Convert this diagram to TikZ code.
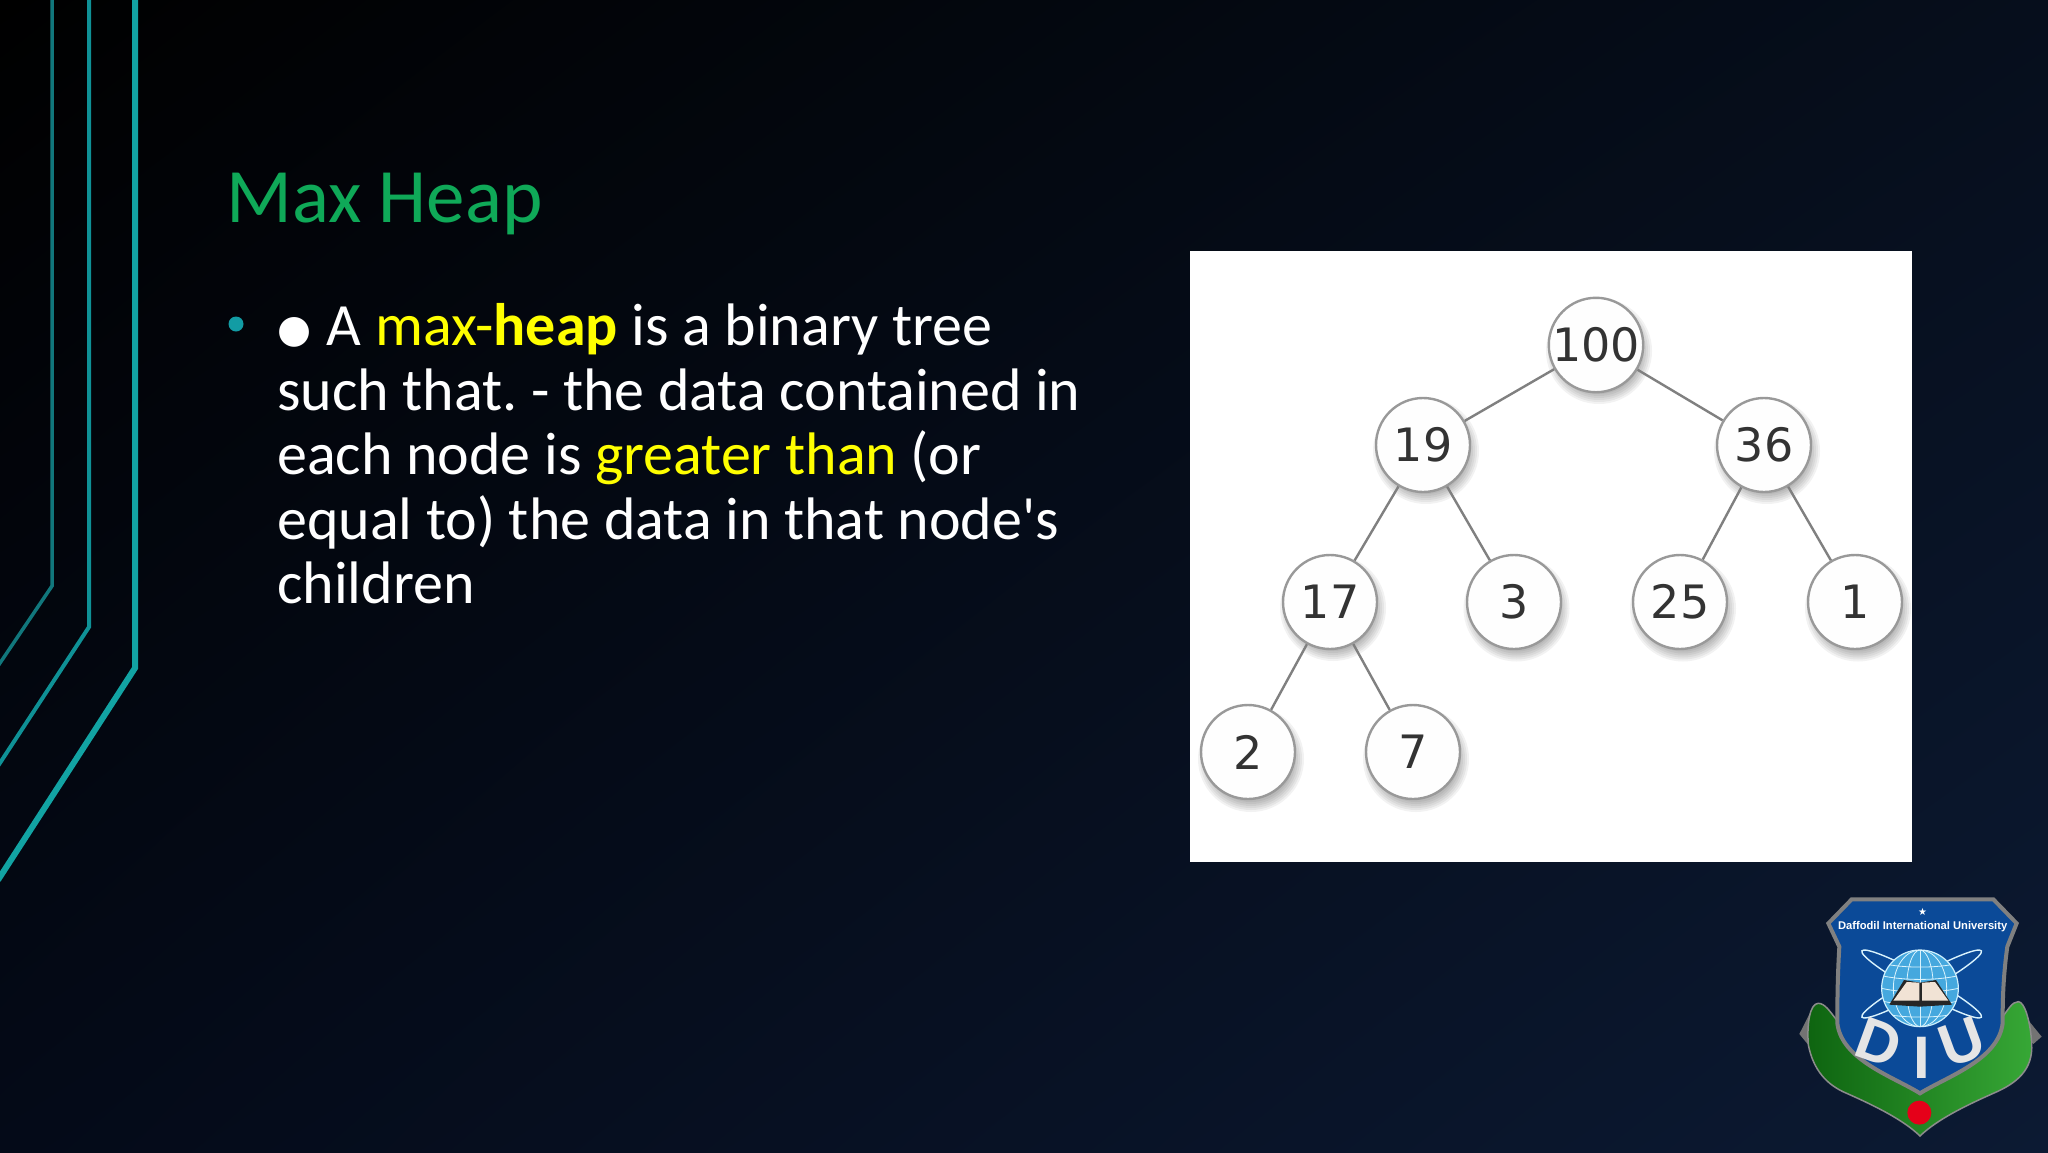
\documentclass[tikz,border=0pt]{standalone}
\usepackage{fontspec}
\setmainfont{Carlito}
\newfontfamily\plainfont{Carlito}
\newfontfamily\dejavu{DejaVu Sans}
\newfontfamily\libsans{Liberation Sans}
\usetikzlibrary{calc,shadings}
\frenchspacing
\definecolor{tealA}{HTML}{12A3A3}
\definecolor{tealB}{HTML}{0F9196}
\definecolor{tealC}{HTML}{11777C}
\definecolor{titlegreen}{HTML}{0FA958}
\definecolor{hiyellow}{HTML}{FFFF00}
\definecolor{bulletteal}{HTML}{129CA4}
\definecolor{bgTL}{HTML}{000000}
\definecolor{bgTR}{HTML}{060E1C}
\definecolor{bgBL}{HTML}{040A18}
\definecolor{bgBR}{HTML}{0C1A33}
\definecolor{shieldblue}{HTML}{0B4A98}
\definecolor{globeblue}{HTML}{45A8DE}
\definecolor{ribL}{HTML}{0E6410}
\definecolor{ribR}{HTML}{37A836}
\tikzset{
  line1/.style={draw=tealA,line width=6pt,miter limit=10},
  line2/.style={draw=tealB,line width=4pt},
  line3/.style={draw=tealC,line width=3.5pt},
  bodyline/.style={anchor=base west,inner sep=0pt,text=white,font=\fontsize{60}{66}\selectfont},
  heapnode/.style={circle,draw=black!40,line width=2.4pt,fill=white!99.5!black,minimum size=94pt,inner sep=0pt,text=black!80,font=\dejavu\fontsize{46}{50}\selectfont},
  heapedge/.style={draw=black!50,line width=2.4pt},
  dletter/.style={text=white!90!black,font=\libsans\bfseries\fontsize{60}{60}\selectfont,inner sep=0pt},
  orbit/.style={draw=white!85!cyan,line width=1.4pt},
  gridline/.style={draw=white!85!cyan,line width=.8pt},
}
\newcommand{\shadowat}[2]{%
  \foreach \r in {53,51,49,47,45,43}{\fill[black,opacity=0.05] (#1+3,#2+7) circle[radius=\r pt];}}
\begin{document}
\begin{tikzpicture}[x=1pt,y=-1pt]
\useasboundingbox (0,0) rectangle (2048,1152);
\shade[upper left=bgTL,upper right=bgTR,lower left=bgBL,lower right=bgBR] (0,0) rectangle (2048,1152);
% teal lines
\draw[line3] (52,0) -- (52,586) -- (-2,666);
\draw[line2] (89,0) -- (89,627) -- (-2,766);
\draw[line1] (135,0) -- (135,668) -- (-2,880);
% title
\node[anchor=base west,inner sep=0pt,text=titlegreen,font=\fontsize{77}{84}\selectfont] (title) at (226,222) {Max Heap};
% body
\fill[bulletteal] (236,324) circle[radius=7.5pt];
\node[bodyline] (l1) at (277,345) {{\dejavu\fontsize{39}{40}\selectfont\raisebox{3pt}{●}}\hspace{2pt} A \textcolor{hiyellow}{max-\textbf{heap}} is a binary tree};
\node[bodyline] (l2) at (277,410) {such that. - the data contained in};
\node[bodyline] (l3) at (277,474) {each node is \textcolor{hiyellow}{greater than} (or};
\node[bodyline] (l4) at (277,539) {equal to) the data in that node{\plainfont '}s};
\node[bodyline] (l5) at (277,603) {children};
% tree image
\fill[white] (1190,251) rectangle (1912,862);
\shadowat{1596}{344}\shadowat{1423}{444}\shadowat{1764}{444}\shadowat{1330}{601}\shadowat{1513.5}{601.5}\shadowat{1680}{601.5}\shadowat{1855}{601.5}\shadowat{1248}{752}\shadowat{1413}{752}
\node[heapnode] (n100) at (1596,345) {100};
\node[heapnode] (n19) at (1423,445) {19};
\node[heapnode] (n36) at (1764,445) {36};
\node[heapnode] (n17) at (1330,602) {17};
\node[heapnode] (n3) at (1514,602) {3};
\node[heapnode] (n25) at (1680,602) {25};
\node[heapnode] (n1) at (1855,602) {1};
\node[heapnode] (n2) at (1248,752) {2};
\node[heapnode] (n7) at (1413,752) {7};
\foreach \a/\b in {n100/n19,n100/n36,n19/n17,n19/n3,n36/n25,n36/n1,n17/n2,n17/n7}{\draw[heapedge] (\a) -- (\b);}
% logo
\begin{scope}[shift={(1780,880)},x=0.3333pt,y=-0.3333pt]
  % rolled ribbon ends
  \fill[black!55] (58,462) -- (92,395) -- (125,440) -- (85,495) -- cycle;
  \fill[black!55] (728,400) -- (785,470) -- (760,492) -- (715,450) -- cycle;
  % ribbon
  \shade[left color=ribL,right color=ribR,draw=black!45,line width=1.5pt]
    (85,495) .. controls (100,570) and (140,615) .. (200,640)
    .. controls (290,680) and (370,720) .. (420,768)
    .. controls (470,720) and (550,680) .. (640,640)
    .. controls (710,610) and (760,570) .. (755,490)
    .. controls (752,430) and (735,365) .. (715,365)
    .. controls (695,365) and (685,390) .. (660,420)
    -- (420,600) -- (170,420)
    .. controls (150,395) and (135,370) .. (115,370)
    .. controls (90,370) and (80,430) .. (85,495) -- cycle;
  % shield
  \fill[shieldblue,draw=black!50,line width=4pt]
    (215,58) -- (640,58) -- (710,130) -- (682,200) .. controls (668,300) and (668,380) .. (668,430)
    .. controls (655,540) and (500,590) .. (420,640)
    .. controls (340,590) and (185,540) .. (172,430)
    .. controls (172,380) and (172,300) .. (178,200) -- (145,130) -- cycle;
  \node[text=white,font=\libsans\bfseries\fontsize{11.2}{12}\selectfont,inner sep=0pt] (uni) at (428,140) {Daffodil International University};
  \node[text=white,font=\dejavu\fontsize{10}{10}\selectfont,inner sep=0pt] (star) at (428,97) {★};
  % orbits
  \draw[orbit,rotate around={29:(425,312)}] (425,312) ellipse[x radius=205,y radius=26];
  \draw[orbit,rotate around={-29:(425,312)}] (425,312) ellipse[x radius=205,y radius=26];
  % globe
  \fill[globeblue,draw=white!80!cyan,line width=1.2pt] (420,325) circle[radius=115];
  \begin{scope}
    \clip (420,325) circle[radius=115];
    \foreach \rx in {40,80}{\draw[gridline] (420,325) ellipse[x radius=\rx,y radius=115];}
    \draw[gridline] (420,210) -- (420,440);
    \foreach \yy in {-75,-38,0,38,75}{\draw[gridline] (305,325+\yy) .. controls (370,340+\yy) and (470,340+\yy) .. (535,325+\yy);}
  \end{scope}
  % book
  \fill[black!85] (328,374) -- (372,300) -- (420,308) -- (468,300) -- (516,374) -- (420,380) -- cycle;
  \fill[white!78!brown] (340,362) -- (380,306) -- (418,308) -- (418,362) -- cycle;
  \fill[white!78!brown] (505,362) -- (465,306) -- (426,308) -- (426,362) -- cycle;
  % letters
  \node[dletter,rotate=-20] (d) at (297,487) {D};
  \node[dletter] (i) at (424,535) {I};
  \node[dletter,rotate=20] (u) at (547,487) {U};
  % red dot
  \fill[red!90!blue] (418,698) circle[radius=36];
\end{scope}
\end{tikzpicture}
\end{document}
